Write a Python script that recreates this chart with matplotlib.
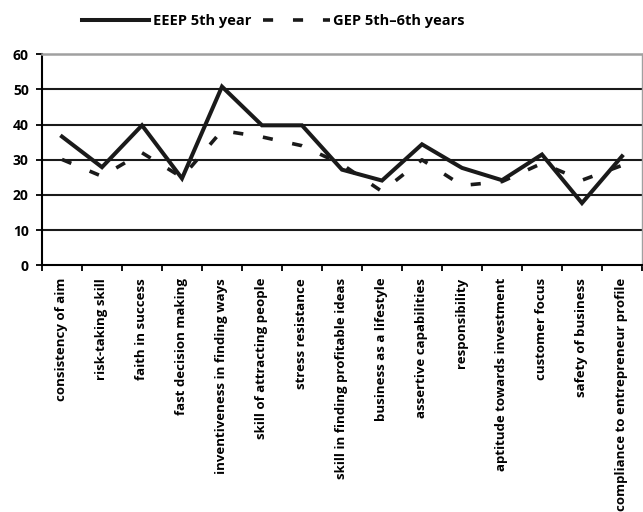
import numpy as np
import matplotlib.pyplot as plt

plt.rcParams['font.family'] = ['Open Sans', 'DejaVu Sans']

# categories and values
categories = [
    'consistency of aim', 'risk-taking skill', 'faith in success',
    'fast decision making', 'inventiveness in finding ways',
    'skill of attracting people', 'stress resistance',
    'skill in finding profitable ideas', 'business as a lifestyle',
    'assertive capabilities', 'responsibility',
    'aptitude towards investment', 'customer focus',
    'safety of business', 'compliance to entrepreneur profile',
]
eeep = [36.6, 27.9, 39.8, 24.7, 50.8, 39.8, 39.8, 27.2, 24.1, 34.4,
        27.7, 24.2, 31.5, 17.7, 31.0]
gep = [30.1, 25.3, 32.0, 25.0, 38.3, 36.5, 34.0, 28.7, 21.0, 30.0,
       22.7, 23.8, 29.0, 24.2, 28.4]
yticks = [0, 10, 20, 30, 40, 50, 60]

fig = plt.figure(figsize=(6.43, 5.12), dpi=100)
ax = fig.add_axes([0.0653, 0.4818, 0.9331, 0.4122])

x = np.arange(len(categories))
ax.plot(x, eeep, color='#1a1a1a', lw=2.9, solid_joinstyle='miter',
        label='EEEP 5th year', zorder=3)
ax.plot(x, gep, color='#1a1a1a', lw=2.6, linestyle=(0, (2.8, 5.5)),
        dash_capstyle='butt', label='GEP 5th\u20136th years', zorder=3)

ax.set_xlim(-0.5, len(categories) - 0.5)
ax.set_ylim(0, 60)
ax.set_yticks(yticks)
ax.set_yticklabels([str(v) for v in yticks], fontsize=10, fontweight='bold')

ax.set_xticks(x)
ax.set_xticklabels(categories, rotation=90, fontsize=9.5, fontweight='bold',
                   va='top', ha='center')
ax.set_xticks(np.arange(-0.5, len(categories)), minor=True)
ax.tick_params(axis='x', which='major', length=0, pad=9)
ax.tick_params(axis='x', which='minor', length=4, width=1.3, direction='out')
ax.tick_params(axis='y', length=4.5, width=1.3, direction='out', pad=5)

for v in yticks[1:-1]:
    ax.axhline(v, color='#1a1a1a', lw=1.5, zorder=1)

ax.spines['left'].set_linewidth(1.5)
ax.spines['bottom'].set_linewidth(1.5)
ax.spines['top'].set_color('#a0a0a0')
ax.spines['top'].set_linewidth(1.8)
ax.spines['right'].set_color('#a0a0a0')
ax.spines['right'].set_linewidth(1.0)

fig.legend(loc='center', bbox_to_anchor=(0.425, 0.959), ncol=2, frameon=False,
           handlelength=4.6, columnspacing=0.8, handletextpad=0.25,
           prop={'size': 10.5, 'weight': 'bold'})

fig.savefig('out.png', dpi=100)
